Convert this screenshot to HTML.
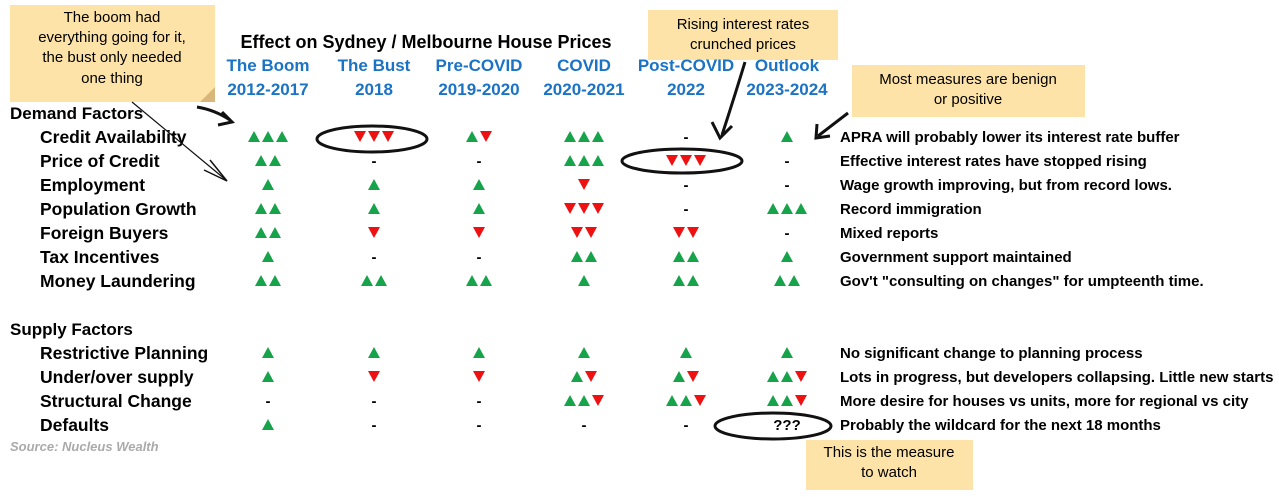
<!DOCTYPE html>
<html><head><meta charset="utf-8"><style>
body{margin:0;background:#fff;width:1279px;height:492px;overflow:hidden}
svg text{font-family:"Liberation Sans",sans-serif}
</style></head><body>
<svg id="c" width="1279" height="492" viewBox="0 0 1279 492">
<g>
<rect x="10" y="5" width="205" height="97" fill="#fde3a7"/>
<polygon points="200,102 215,87 215,102" fill="#d9b77a"/>
<text x="112" y="22" text-anchor="middle" font-size="15">The boom had</text>
<text x="112" y="42" text-anchor="middle" font-size="15">everything going for it,</text>
<text x="112" y="62" text-anchor="middle" font-size="15">the bust only needed</text>
<text x="112" y="83" text-anchor="middle" font-size="15">one thing</text>
</g>
<g>
<rect x="648" y="10" width="190" height="50" fill="#fde3a7"/>
<text x="743" y="29" text-anchor="middle" font-size="15">Rising interest rates</text>
<text x="743" y="49" text-anchor="middle" font-size="15">crunched prices</text>
</g>
<g>
<rect x="852" y="65" width="233" height="52" fill="#fde3a7"/>
<text x="968" y="84" text-anchor="middle" font-size="15">Most measures are benign</text>
<text x="968" y="104" text-anchor="middle" font-size="15">or positive</text>
</g>
<g>
<rect x="806" y="440" width="167" height="50" fill="#fde3a7"/>
<text x="889" y="457" text-anchor="middle" font-size="15">This is the measure</text>
<text x="889" y="477" text-anchor="middle" font-size="15">to watch</text>
</g>
<text x="426" y="48" text-anchor="middle" font-size="18" font-weight="bold">Effect on Sydney / Melbourne House Prices</text>
<g id="hdr"></g>
<g id="rows"></g>
<text x="10" y="451" font-size="13" font-weight="bold" font-style="italic" fill="#aaa">Source: Nucleus Wealth</text>
<g fill="none" stroke="#111" stroke-width="3">
<ellipse cx="372" cy="139" rx="55" ry="13"/>
<ellipse cx="682" cy="161" rx="60" ry="12"/>
<ellipse cx="773" cy="426" rx="58" ry="13"/>
<path d="M197,107 Q215,110 230,120"/>
<path d="M222,112 L232,122 L218,125" />
<path d="M745,62 Q735,95 722,135"/>
<path d="M712,122 L720,138 L732,126"/>
<path d="M848,113 L818,136"/>
<path d="M817,124 L816,138 L830,136"/>
<path d="M132,102 L226,180" stroke-width="1.2"/>
<path d="M210,160 L227,181 L204,170" stroke-width="1.5"/>
</g>
</svg>
<script>
const periods=["The Boom","The Bust","Pre-COVID","COVID","Post-COVID","Outlook"];
const years=["2012-2017","2018","2019-2020","2020-2021","2022","2023-2024"];
const factors=["Credit Availability","Price of Credit","Employment","Population Growth","Foreign Buyers","Tax Incentives","Money Laundering","Restrictive Planning","Under/over supply","Structural Change","Defaults"];
const groupOf=["d","d","d","d","d","d","d","s","s","s","s"];
const signals=[
["uuu","ddd","ud","uuu","-","u"],
["uu","-","-","uuu","ddd","-"],
["u","u","u","d","-","-"],
["uu","u","u","ddd","-","uuu"],
["uu","d","d","dd","dd","-"],
["u","-","-","uu","uu","u"],
["uu","uu","uu","u","uu","uu"],
["u","u","u","u","u","u"],
["u","d","d","ud","ud","uud"],
["-","-","-","uud","uud","uud"],
["u","-","-","-","-","???"]];
const comments=["APRA will probably lower its interest rate buffer","Effective interest rates have stopped rising","Wage growth improving, but from record lows.","Record immigration","Mixed reports","Government support maintained","Gov't \"consulting on changes\" for umpteenth time.","No significant change to planning process","Lots in progress, but developers collapsing. Little new starts","More desire for houses vs units, more for regional vs city","Probably the wildcard for the next 18 months"];
const NS="http://www.w3.org/2000/svg";
const colX=[268,374,479,584,686,787];
function mk(t,a,p,txt){const e=document.createElementNS(NS,t);for(const k in a)e.setAttribute(k,a[k]);if(txt!=null)e.textContent=txt;p.appendChild(e);return e;}
const hdr=document.getElementById('hdr'),rows=document.getElementById('rows');
periods.forEach((p,i)=>{
 const t=mk('text',{x:colX[i],y:71,'text-anchor':'middle','font-size':17,'font-weight':'bold',fill:'#1a73c4'},hdr,p);
 
 
 const y=mk('text',{x:colX[i],y:95,'text-anchor':'middle','font-size':17,'font-weight':'bold',fill:'#1a73c4'},hdr,years[i]);
 
 
});
function rowY(i){return groupOf[i]==="d"?137+24*i:137+24*(i+2);}
const g1=mk('text',{x:10,y:119,'font-size':17,'font-weight':'bold'},rows,"Demand Factors");


const g2=mk('text',{x:10,y:335,'font-size':17,'font-weight':'bold'},rows,"Supply Factors");


factors.forEach((f,i)=>{
 const y=rowY(i);
 const l=mk('text',{x:40,y:y+6,'font-size':17.5,'font-weight':'bold'},rows,f);
 
 
 const c=mk('text',{x:840,y:y+5,'font-size':15,'font-weight':'bold'},rows,comments[i]);
 
 
 signals[i].forEach((s,j)=>{
  const cx=colX[j];
  if(s==="-"||s==="???"){
   const d=mk('text',{x:cx,y:y+5,'text-anchor':'middle','font-size':15,'font-weight':'bold'},rows,s);
   
   
   return;
  }
  const n=s.length,sp=14,x0=cx-(n-1)*sp/2;
  for(let k=0;k<n;k++){
   const x=x0+k*sp;let pts,fill;
   if(s[k]==="u"){pts=`${x-6},${y+5} ${x+6},${y+5} ${x},${y-6}`;fill="#16a34a";}
   else{pts=`${x-6},${y-6} ${x+6},${y-6} ${x},${y+5}`;fill="#ee1111";}
   const t=mk('polygon',{points:pts,fill:fill},rows);
   
   
  }
 });
});
</script>
</body></html>
